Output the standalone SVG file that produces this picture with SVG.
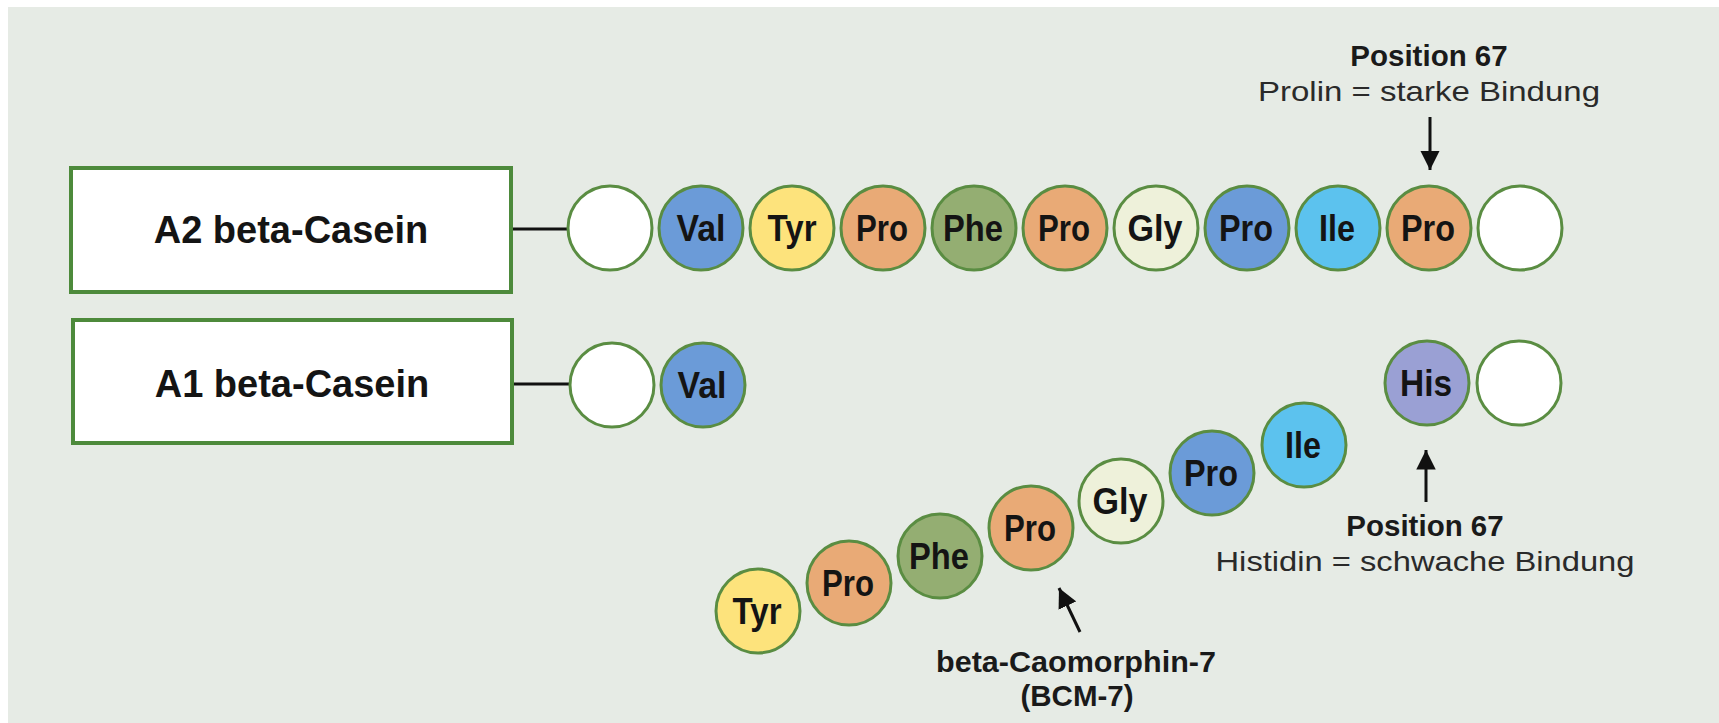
<svg xmlns="http://www.w3.org/2000/svg" width="1719" height="723" viewBox="0 0 1719 723">
  <style>
    .box { fill: #ffffff; stroke: #4d8a3b; stroke-width: 4; }
    .aa { stroke: #5a8d42; stroke-width: 3; }
    .wh { fill: #ffffff; }
    .val { fill: #6b9bd8; }
    .tyr { fill: #fde37c; }
    .pro { fill: #e9aa76; }
    .phe { fill: #94ae72; }
    .gly { fill: #eef1da; }
    .ile { fill: #5cc2ee; }
    .his { fill: #9aa0d4; }
    .lbl { font-family: "Liberation Sans", Arial, sans-serif; font-weight: bold; font-size: 36px; fill: #141414; text-anchor: middle; }
    .title { font-family: "Liberation Sans", Arial, sans-serif; font-weight: bold; font-size: 38px; fill: #141414; text-anchor: middle; }
    .pos { font-family: "Liberation Sans", Arial, sans-serif; font-weight: bold; font-size: 29.5px; fill: #1a1a1a; text-anchor: middle; }
    .note { font-family: "Liberation Sans", Arial, sans-serif; font-size: 28.5px; fill: #2a2a2a; text-anchor: middle; }
    .conn { stroke: #111111; stroke-width: 3; fill: none; }
  </style>
  <defs>
    <marker id="ah" viewBox="0 0 10 10" refX="10" refY="5" markerWidth="6.5" markerHeight="6.5" markerUnits="strokeWidth" orient="auto">
      <path d="M0,0 L10,5 L0,10 z" fill="#111111"/>
    </marker>
  </defs>

  <rect x="8" y="7" width="1711" height="716" fill="#e6ebe5"/>

  <g id="connectors">
    <line class="conn" x1="513" y1="229" x2="568" y2="229"/>
    <line class="conn" x1="514" y1="384" x2="569" y2="384"/>
    <line class="conn" x1="1430" y1="117" x2="1430" y2="170" marker-end="url(#ah)"/>
    <line class="conn" x1="1426" y1="502" x2="1426" y2="450" marker-end="url(#ah)"/>
    <line class="conn" x1="1080" y1="632" x2="1059" y2="588" marker-end="url(#ah)"/>
  </g>

  <g id="a2-box">
    <rect class="box" x="71" y="168" width="440" height="124"/>
    <text class="title" x="291" y="243">A2 beta-Casein</text>
  </g>
  <g id="a1-box">
    <rect class="box" x="73" y="320" width="439" height="123"/>
    <text class="title" x="292" y="397">A1 beta-Casein</text>
  </g>

  <g id="a2-chain">
    <g id="a2-0"><circle class="aa wh" cx="610" cy="228" r="42"/></g>
    <g id="a2-val"><circle class="aa val" cx="701" cy="228" r="42"/><text class="lbl" x="701" y="241" textLength="49" lengthAdjust="spacingAndGlyphs">Val</text></g>
    <g id="a2-tyr"><circle class="aa tyr" cx="792" cy="228" r="42"/><text class="lbl" x="792" y="241" textLength="49" lengthAdjust="spacingAndGlyphs">Tyr</text></g>
    <g id="a2-pro1"><circle class="aa pro" cx="883" cy="228" r="42"/><text class="lbl" x="882" y="241" textLength="52" lengthAdjust="spacingAndGlyphs">Pro</text></g>
    <g id="a2-phe"><circle class="aa phe" cx="974" cy="228" r="42"/><text class="lbl" x="973" y="241" textLength="60" lengthAdjust="spacingAndGlyphs">Phe</text></g>
    <g id="a2-pro2"><circle class="aa pro" cx="1065" cy="228" r="42"/><text class="lbl" x="1064" y="241" textLength="52" lengthAdjust="spacingAndGlyphs">Pro</text></g>
    <g id="a2-gly"><circle class="aa gly" cx="1156" cy="228" r="42"/><text class="lbl" x="1155" y="241" textLength="55" lengthAdjust="spacingAndGlyphs">Gly</text></g>
    <g id="a2-pro3"><circle class="aa val" cx="1247" cy="228" r="42"/><text class="lbl" x="1246" y="241" textLength="54" lengthAdjust="spacingAndGlyphs">Pro</text></g>
    <g id="a2-ile"><circle class="aa ile" cx="1338" cy="228" r="42"/><text class="lbl" x="1337" y="241" textLength="36" lengthAdjust="spacingAndGlyphs">Ile</text></g>
    <g id="a2-pro4"><circle class="aa pro" cx="1429" cy="228" r="42"/><text class="lbl" x="1428" y="241" textLength="54" lengthAdjust="spacingAndGlyphs">Pro</text></g>
    <g id="a2-end"><circle class="aa wh" cx="1520" cy="228" r="42"/></g>
  </g>

  <g id="a1-chain">
    <g id="a1-0"><circle class="aa wh" cx="612" cy="385" r="42"/></g>
    <g id="a1-val"><circle class="aa val" cx="703" cy="385" r="42"/><text class="lbl" x="702" y="398" textLength="49" lengthAdjust="spacingAndGlyphs">Val</text></g>
    <g id="a1-his"><circle class="aa his" cx="1427" cy="383" r="42"/><text class="lbl" x="1426" y="396" textLength="52" lengthAdjust="spacingAndGlyphs">His</text></g>
    <g id="a1-end"><circle class="aa wh" cx="1519" cy="383" r="42"/></g>
  </g>

  <g id="bcm7-chain">
    <g id="b-tyr"><circle class="aa tyr" cx="758" cy="611" r="42"/><text class="lbl" x="757" y="624" textLength="49" lengthAdjust="spacingAndGlyphs">Tyr</text></g>
    <g id="b-pro1"><circle class="aa pro" cx="849" cy="583" r="42"/><text class="lbl" x="848" y="596" textLength="52" lengthAdjust="spacingAndGlyphs">Pro</text></g>
    <g id="b-phe"><circle class="aa phe" cx="940" cy="556" r="42"/><text class="lbl" x="939" y="569" textLength="60" lengthAdjust="spacingAndGlyphs">Phe</text></g>
    <g id="b-pro2"><circle class="aa pro" cx="1031" cy="528" r="42"/><text class="lbl" x="1030" y="541" textLength="52" lengthAdjust="spacingAndGlyphs">Pro</text></g>
    <g id="b-gly"><circle class="aa gly" cx="1121" cy="501" r="42"/><text class="lbl" x="1120" y="514" textLength="55" lengthAdjust="spacingAndGlyphs">Gly</text></g>
    <g id="b-pro3"><circle class="aa val" cx="1212" cy="473" r="42"/><text class="lbl" x="1211" y="486" textLength="54" lengthAdjust="spacingAndGlyphs">Pro</text></g>
    <g id="b-ile"><circle class="aa ile" cx="1304" cy="445" r="42"/><text class="lbl" x="1303" y="458" textLength="36" lengthAdjust="spacingAndGlyphs">Ile</text></g>
  </g>

  <g id="label-top">
    <text class="pos" x="1429" y="66">Position 67</text>
    <text class="note" x="1429" y="101" textLength="342" lengthAdjust="spacingAndGlyphs">Prolin = starke Bindung</text>
  </g>
  <g id="label-bottom">
    <text class="pos" x="1425" y="536">Position 67</text>
    <text class="note" x="1425" y="571" textLength="419" lengthAdjust="spacingAndGlyphs">Histidin = schwache Bindung</text>
  </g>
  <g id="label-bcm">
    <text class="pos" x="1076" y="672" style="font-size:29.5px" textLength="280" lengthAdjust="spacingAndGlyphs">beta-Caomorphin-7</text>
    <text class="pos" x="1077" y="706" style="font-size:29.5px">(BCM-7)</text>
  </g>
</svg>
